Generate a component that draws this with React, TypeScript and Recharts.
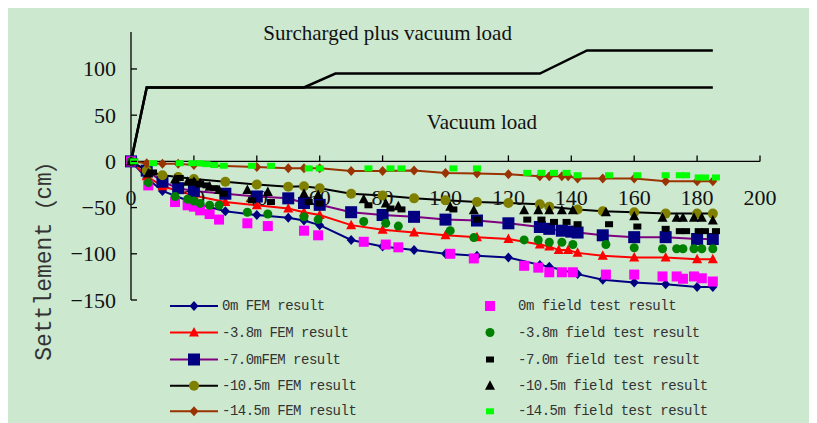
import { ComposedChart, Line, Scatter, XAxis, YAxis, ReferenceLine, ReferenceDot } from "recharts";

// axis ticks
const xTicks = [0, 20, 40, 60, 80, 100, 120, 140, 160, 180, 200];
const yTicks = [-150, -100, -50, 0, 50, 100];

// load history (days, kPa-ish scale as drawn)
const vacuumDays = [0, 5, 185];
const vacuumLoad = [0, 80, 80];
const surchargeDays = [0, 5, 55, 65, 130, 145, 185];
const surchargeLoad = [0, 80, 80, 95, 95, 120, 120];

// FEM results (days, settlement cm)
const fem0Days = [0, 5, 10, 20, 30, 40, 50, 55, 60, 70, 80, 90, 100, 110, 120, 130, 133, 142, 150, 160, 170, 180, 185];
const fem0 = [0, -18, -32, -45, -54, -58, -61, -64, -69, -85, -92, -96, -100, -102, -104, -112, -114, -122, -128, -131, -133, -136, -136];

const fem38Days = [0, 5, 10, 20, 30, 40, 50, 55, 60, 70, 80, 90, 100, 110, 120, 130, 133, 136, 139, 142, 150, 160, 170, 180, 185];
const fem38 = [0, -16, -27, -37, -44, -47.5, -51, -55, -58, -69, -74, -77, -80, -82, -84, -90, -92, -96, -96, -99, -102, -104, -104, -106, -106];

const fem70Days = [0, 5, 10, 15, 20, 30, 40, 50, 55, 60, 70, 80, 90, 100, 110, 120, 130, 133, 137, 140, 142, 150, 160, 170, 180, 185];
const fem70 = [0, -10, -22, -29, -32, -35, -38, -40, -45, -47, -55, -58, -60, -63, -64, -67, -71, -73, -75, -76, -77, -80, -82, -82, -84, -84];

const fem105Days = [0, 5, 10, 15, 20, 30, 40, 50, 55, 60, 70, 80, 90, 100, 110, 120, 130, 133, 142, 150, 160, 170, 180, 185];
const fem105 = [0, -10, -15, -17, -19, -22, -25, -27.5, -27, -29, -35, -37, -40, -42, -44, -45, -46.5, -49, -52, -54, -55, -56.5, -56.5, -56.5];

const fem145Days = [0, 5, 10, 15, 20, 40, 50, 55, 60, 70, 80, 90, 100, 110, 120, 130, 133, 137, 139, 142, 150, 160, 170, 180, 185];
const fem145 = [0, -2, -2.5, -2.5, -4, -6, -7.5, -7.5, -7.5, -10.5, -10.5, -10, -12.5, -13, -14, -16, -16, -16, -16, -18.5, -18.5, -18.5, -21.5, -21.5, -21.5];

// field test results
const fieldDays = [0, 5.5, 14, 18, 20, 22, 25, 28, 37, 43.5, 55, 59.5, 74, 81, 85, 101.5, 109, 125, 129.5, 133, 137, 140.5, 151, 160, 169, 173.5, 175.5, 179, 181.5, 185];
const field0 = [0, -26, -44, -47.5, -49, -53, -57, -63, -67, -70, -75, -80, -87, -90, -93, -100, -105, -113, -115, -120, -120, -120, -122.5, -122.5, -124.5, -124.5, -127, -124.5, -126.5, -130];
const field38 = [0, -23, -38, -41, -43, -45.5, -47.5, -47.5, -55, -57, -60, -63, -65, -67, -70, -75, -82.5, -85, -85, -87.5, -87.5, -90, -90, -93.5, -94.5, -94.5, -94.5, -94.5, -94.5, -94.5];
const field105 = [0, -13, -19.5, -22, -22, -24, -27.5, -31, -31, -33, -35, -36.5, -41, -45.5, -48.5, -49, -53, -53, -53, -53, -53, -53, -55, -59.5, -61, -61, -61, -61, -61, -64];

const smallDays = [1, 7, 15.5, 19.5, 22, 24, 26.5, 29.5, 38.5, 44.5, 56.5, 60, 75.5, 82.5, 86, 102.5, 110, 126, 130.5, 134.5, 138.5, 142, 152, 161, 170, 174.5, 176.5, 180.5, 182.5, 186];
const field70 = [0, -12, -18, -22, -24, -26, -29, -35, -42, -44, -44, -45.5, -47.5, -51, -52, -52, -63, -63, -63, -65.5, -65.5, -68, -68, -70.5, -73, -75.5, -75.5, -75.5, -75.5, -75.5];
const field145 = [0, -2, -2, -2, -2, -3, -4, -4.7, -4.8, -4.8, -7.6, -7.6, -7.6, -7.6, -7.6, -7.6, -7.6, -12.4, -12.4, -12.4, -12.4, -15, -15, -15, -15, -15, -15, -17.4, -17.4, -17.4];

const pair = (days: number[], vals: number[]) => days.map((day, i) => ({ day, v: vals[i] }));

const SERIF = "'Liberation Serif', 'Times New Roman', serif";
const MONO = "'Liberation Mono', 'Noto Sans CJK SC', monospace";
const BG = "#cce8cf";

type P = { cx: number; cy: number; fill: string };

const Diamond = ({ cx, cy, fill }: P) => (
  <polygon points={`${cx},${cy - 5} ${cx + 4.5},${cy} ${cx},${cy + 5} ${cx - 4.5},${cy}`} fill={fill} />
);
const Tri = ({ cx, cy, fill }: P) => (
  <polygon points={`${cx},${cy - 5.5} ${cx + 5},${cy + 4} ${cx - 5},${cy + 4}`} fill={fill} />
);
const Box = ({ cx, cy, fill, w, h }: P & { w: number; h: number }) => (
  <rect x={cx - w / 2} y={cy - h / 2} width={w} height={h} fill={fill} />
);
const Dot = ({ cx, cy, fill, r }: P & { r: number }) => <circle cx={cx} cy={cy} r={r} fill={fill} />;

const dotOf = (render: (cx: number, cy: number) => JSX.Element) => (p: any) => (
  <g key={`d-${p.index}`}>{p.cx == null ? null : render(p.cx, p.cy)}</g>
);
const shapeOf = (render: (cx: number, cy: number) => JSX.Element) => (p: any) => (
  <g>{render(p.cx, p.cy)}</g>
);

const fmtY = (v: number) => (v < 0 ? `\u2212${Math.abs(v)}` : `${v}`);

const YTick = (props: any) => {
  const { x, y, payload } = props;
  return (
    <g>
      <line x1={x} x2={x + 6} y1={y} y2={y} stroke="#000" strokeWidth={1.3} />
      <text x={x - 15} y={y} textAnchor="end" dominantBaseline="central" fontSize={22} fontFamily={SERIF} fill="#111">
        {fmtY(payload.value)}
      </text>
    </g>
  );
};

const xTickShape = (t: number) => (p: any) => (
  <g>
    <line x1={p.cx} x2={p.cx} y1={p.cy} y2={p.cy - 6} stroke="#000" strokeWidth={1.3} />
    <text x={p.cx} y={p.cy + 36} textAnchor="middle" dominantBaseline="central" fontSize={22} fontFamily={SERIF} fill="#111">
      {t}
    </text>
  </g>
);

const noteShape = (label: string) => (p: any) => (
  <text x={p.cx} y={p.cy} textAnchor="middle" fontSize={21} fontFamily={SERIF} fill="#111">
    {label}
  </text>
);

const femLegend = [
  { name: "0m FEM result", stroke: "#000080", mark: (cx: number, cy: number) => <Diamond cx={cx} cy={cy} fill="#000080" /> },
  { name: "-3.8m FEM result", stroke: "#ff0000", mark: (cx: number, cy: number) => <Tri cx={cx} cy={cy} fill="#ff0000" /> },
  { name: "-7.0mFEM result", stroke: "#800080", mark: (cx: number, cy: number) => <Box cx={cx} cy={cy} fill="#000080" w={12} h={12} /> },
  { name: "-10.5m FEM result", stroke: "#000000", mark: (cx: number, cy: number) => <Dot cx={cx} cy={cy} fill="#808000" r={5} /> },
  { name: "-14.5m FEM result", stroke: "#993300", mark: (cx: number, cy: number) => <Diamond cx={cx} cy={cy} fill="#993300" /> },
];
const fieldLegend = [
  { name: "0m field test result", mark: (cx: number, cy: number) => <Box cx={cx} cy={cy} fill="#ff00ff" w={10} h={10} /> },
  { name: "-3.8m field test result", mark: (cx: number, cy: number) => <Dot cx={cx} cy={cy} fill="#008000" r={4.5} /> },
  { name: "-7.0m field test result", mark: (cx: number, cy: number) => <Box cx={cx} cy={cy} fill="#000" w={8} h={6} /> },
  { name: "-10.5m field test result", mark: (cx: number, cy: number) => <Tri cx={cx} cy={cy} fill="#000" /> },
  { name: "-14.5m field test result", mark: (cx: number, cy: number) => <Box cx={cx} cy={cy} fill="#00ff00" w={8} h={6} /> },
];
const legendRows = [299, 325.5, 352.5, 378.7, 404.3];

export default function App() {
  return (
    <div style={{ position: "relative", width: 809, height: 416, marginTop: -1, background: BG }}>
      <ComposedChart width={809} height={416} margin={{ top: 25, right: 57, bottom: 123, left: 63 }}>
        <XAxis type="number" dataKey="day" domain={[0, 200]} ticks={xTicks} hide allowDuplicatedCategory={false} />
        <YAxis
          type="number"
          width={60}
          domain={[-150, 140]}
          ticks={yTicks}
          allowDataOverflow
          tickSize={0}
          tickMargin={0}
          tick={YTick}
          axisLine={{ stroke: "#000", strokeWidth: 1.3 }}
          tickLine={false}
        />
        <ReferenceLine y={0} stroke="#000" strokeWidth={1.3} />
        {xTicks.map((t) => (
          <ReferenceDot key={t} x={t} y={0} r={0} shape={xTickShape(t)} />
        ))}
        <ReferenceDot x={81.6} y={131.3} r={0} shape={noteShape("Surcharged plus vacuum load")} />
        <ReferenceDot x={111.6} y={35.1} r={0} shape={noteShape("Vacuum load")} />

        <Line data={pair(surchargeDays, surchargeLoad)} dataKey="v" stroke="#000" strokeWidth={2.5} dot={false} isAnimationActive={false} />
        <Line data={pair(vacuumDays, vacuumLoad)} dataKey="v" stroke="#000" strokeWidth={2.5} dot={false} isAnimationActive={false} />

        <Line data={pair(fem0Days, fem0)} dataKey="v" stroke="#000080" strokeWidth={2} isAnimationActive={false}
          dot={dotOf((cx, cy) => <Diamond cx={cx} cy={cy} fill="#000080" />)} />
        <Line data={pair(fem38Days, fem38)} dataKey="v" stroke="#ff0000" strokeWidth={2} isAnimationActive={false}
          dot={dotOf((cx, cy) => <Tri cx={cx} cy={cy} fill="#ff0000" />)} />
        <Line data={pair(fem70Days, fem70)} dataKey="v" stroke="#800080" strokeWidth={2} isAnimationActive={false}
          dot={dotOf((cx, cy) => <Box cx={cx} cy={cy} fill="#000080" w={12} h={12} />)} />
        <Line data={pair(fem105Days, fem105)} dataKey="v" stroke="#000" strokeWidth={2} isAnimationActive={false}
          dot={dotOf((cx, cy) => <Dot cx={cx} cy={cy} fill="#808000" r={5} />)} />
        <Line data={pair(fem145Days, fem145)} dataKey="v" stroke="#993300" strokeWidth={2} isAnimationActive={false}
          dot={dotOf((cx, cy) => <Diamond cx={cx} cy={cy} fill="#993300" />)} />

        <Scatter data={pair(fieldDays, field0)} dataKey="v" isAnimationActive={false}
          shape={shapeOf((cx, cy) => <Box cx={cx} cy={cy} fill="#ff00ff" w={10} h={10} />)} />
        <Scatter data={pair(fieldDays, field38)} dataKey="v" isAnimationActive={false}
          shape={shapeOf((cx, cy) => <Dot cx={cx} cy={cy} fill="#008000" r={4.5} />)} />
        <Scatter data={pair(smallDays, field70)} dataKey="v" isAnimationActive={false}
          shape={shapeOf((cx, cy) => <Box cx={cx} cy={cy} fill="#000" w={8} h={6} />)} />
        <Scatter data={pair(fieldDays, field105)} dataKey="v" isAnimationActive={false}
          shape={shapeOf((cx, cy) => <Tri cx={cx} cy={cy} fill="#000" />)} />
        <Scatter data={pair(smallDays, field145)} dataKey="v" isAnimationActive={false}
          shape={shapeOf((cx, cy) => <Box cx={cx} cy={cy} fill="#00ff00" w={8} h={6} />)} />
      </ComposedChart>

      <svg width={809} height={416} style={{ position: "absolute", left: 0, top: 0, pointerEvents: "none" }}>
        <text
          x={37}
          y={248}
          transform="rotate(-90 37 248)"
          textAnchor="middle"
          dominantBaseline="central"
          fontSize={23}
          fontFamily={MONO}
          fill="#333"
        >
          Settlement<tspan fontFamily="'Noto Sans CJK SC', sans-serif">（</tspan>cm<tspan fontFamily="'Noto Sans CJK SC', sans-serif">）</tspan>
        </text>
        {femLegend.map((s, i) => (
          <g key={s.name}>
            <line x1={162} x2={210} y1={legendRows[i]} y2={legendRows[i]} stroke={s.stroke} strokeWidth={2} />
            {s.mark(186, legendRows[i])}
            <text x={214} y={legendRows[i]} dominantBaseline="central" fontSize={14} letterSpacing={-0.5} fontFamily={MONO} fill="#333">
              {s.name}
            </text>
          </g>
        ))}
        {fieldLegend.map((s, i) => (
          <g key={s.name}>
            {s.mark(482, legendRows[i])}
            <text x={510} y={legendRows[i]} dominantBaseline="central" fontSize={14} letterSpacing={-0.5} fontFamily={MONO} fill="#333">
              {s.name}
            </text>
          </g>
        ))}
      </svg>
    </div>
  );
}
